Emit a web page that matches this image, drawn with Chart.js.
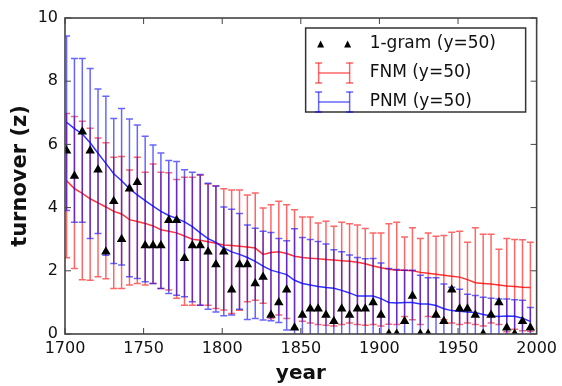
<!DOCTYPE html>
<html lang="en">
<head>
<meta charset="UTF-8">
<title>turnover (z)</title>
<script src="https://cdn.jsdelivr.net/npm/chart.js@4"></script>
<style>
    html, body {
        margin: 0;
        padding: 0;
        background-color: #fff;
    }
    canvas {
        display: block;
    }
</style>
</head>
<body>
<canvas id="grafico" width="562" height="386"></canvas>
<script>
    // years of each sample (5-year steps)
    const anos = [1701, 1706, 1711, 1716, 1721, 1726, 1731, 1736, 1741, 1746,
                  1751, 1756, 1761, 1766, 1771, 1776, 1781, 1786, 1791, 1796,
                  1801, 1806, 1811, 1816, 1821, 1826, 1831, 1836, 1841, 1846,
                  1851, 1856, 1861, 1866, 1871, 1876, 1881, 1886, 1891, 1896,
                  1901, 1906, 1911, 1916, 1921, 1926, 1931, 1936, 1941, 1946,
                  1951, 1956, 1961, 1966, 1971, 1976, 1981, 1986, 1991, 1996];

    // 1-gram turnover
    const gram = [5.8, 5.0, 6.4, 5.8, 5.2, 2.6, 4.2, 3.0, 4.6, 4.8,
                  2.8, 2.8, 2.8, 3.6, 3.6, 2.4, 2.8, 2.8, 2.6, 2.2,
                  2.6, 1.4, 2.2, 2.2, 1.6, 1.8, 0.6, 1.0, 1.4, 0.2,
                  0.6, 0.8, 0.8, 0.6, 0.4, 0.8, 0.6, 0.8, 0.8, 1.0,
                  0.6, 0.0, 0.0, 0.4, 1.2, 0.0, 0.0, 0.6, 0.4, 1.4,
                  0.8, 0.8, 0.6, 0.0, 0.6, 1.0, 0.2, 0.0, 0.4, 0.2];

    // FNM: mean, lower and upper end of the bars
    const fnmMedia = [4.85, 4.60, 4.45, 4.28, 4.15, 4.02, 3.88, 3.80, 3.62, 3.56,
                      3.50, 3.42, 3.30, 3.25, 3.20, 3.10, 3.00, 2.97, 2.92, 2.87,
                      2.82, 2.80, 2.78, 2.75, 2.72, 2.52, 2.58, 2.60, 2.55, 2.46,
                      2.42, 2.40, 2.38, 2.36, 2.34, 2.32, 2.30, 2.27, 2.22, 2.15,
                      2.10, 2.05, 2.02, 2.02, 2.00, 1.95, 1.92, 1.89, 1.86, 1.83,
                      1.80, 1.72, 1.62, 1.60, 1.58, 1.55, 1.52, 1.50, 1.48, 1.47];
    const fnmInf = [2.41, 2.07, 1.72, 1.70, 1.81, 1.75, 1.44, 1.44, 1.55, 1.60,
                    1.55, 1.60, 1.44, 1.39, 1.13, 0.91, 0.91, 0.91, 0.91, 0.81,
                    0.76, 0.65, 0.75, 1.02, 1.07, 0.97, 0.49, 0.60, 0.49, 0.18,
                    0.40, 0.35, 0.30, 0.28, 0.25, 0.30, 0.35, 0.30, 0.28, 0.30,
                    0.25, 0.31, 0.30, 0.55, 0.45, 0.30, 0.55, 0.55, 0.45, 0.35,
                    0.30, 0.35, 0.30, 0.25, 0.35, 0.30, 0.07, 0.15, 0.10, 0.08];
    const fnmSup = [6.98, 6.88, 6.73, 6.51, 6.20, 6.05, 5.59, 5.62, 5.19, 5.59,
                    5.12, 5.38, 5.12, 5.10, 4.89, 4.96, 4.96, 5.02, 4.75, 4.68,
                    4.60, 4.56, 4.56, 4.40, 4.46, 3.99, 4.09, 4.20, 4.09, 3.93,
                    3.70, 3.70, 3.51, 3.57, 3.41, 3.54, 3.49, 3.45, 3.34, 3.20,
                    3.20, 3.49, 3.54, 3.07, 3.36, 3.02, 3.20, 3.09, 3.12, 3.22,
                    3.25, 2.90, 3.36, 3.16, 3.16, 2.68, 3.02, 2.99, 2.98, 2.90];

    // PNM: mean, lower and upper end of the bars
    const pnmMedia = [6.70, 6.50, 6.33, 6.05, 5.72, 5.40, 5.07, 4.85, 4.60, 4.40,
                      4.22, 4.05, 3.88, 3.75, 3.66, 3.55, 3.40, 3.20, 3.02, 2.90,
                      2.72, 2.60, 2.52, 2.42, 2.30, 2.15, 2.02, 1.95, 1.88, 1.70,
                      1.60, 1.55, 1.50, 1.47, 1.45, 1.38, 1.30, 1.20, 1.20, 1.20,
                      1.12, 1.00, 0.98, 1.00, 1.00, 0.95, 0.95, 0.90, 0.80, 0.74,
                      0.72, 0.70, 0.68, 0.62, 0.57, 0.55, 0.57, 0.56, 0.50, 0.40];
    const pnmInf = [3.91, 3.54, 3.54, 3.02, 3.18, 2.49, 2.23, 2.18, 1.81, 1.76,
                    1.65, 1.60, 1.44, 1.28, 1.23, 1.18, 1.02, 0.91, 0.78, 0.70,
                    0.58, 0.60, 0.78, 0.46, 0.49, 0.44, 0.42, 0.36, 0.13, -0.2,
                    -0.2, -0.2, -0.2, -0.2, -0.2, -0.2, -0.2, -0.2, -0.2, -0.2,
                    -0.2, -0.2, -0.2, -0.2, -0.2, -0.2, -0.2, -0.2, -0.2, -0.2,
                    -0.2, -0.2, -0.2, -0.2, -0.2, -0.2, -0.2, -0.2, -0.2, -0.2];
    const pnmSup = [9.43, 8.72, 8.72, 8.40, 7.75, 7.52, 6.82, 7.14, 6.80, 6.61,
                    6.26, 5.98, 5.73, 5.49, 5.46, 5.20, 5.12, 5.05, 4.77, 4.68,
                    4.02, 3.95, 3.81, 3.45, 3.35, 3.25, 3.21, 3.02, 2.95, 3.33,
                    3.05, 2.99, 2.93, 2.85, 2.67, 2.60, 2.50, 2.42, 2.38, 2.39,
                    2.25, 2.07, 2.04, 2.02, 2.02, 1.86, 1.78, 1.78, 1.58, 1.48,
                    1.42, 1.26, 1.22, 1.16, 1.13, 1.11, 1.11, 1.08, 1.07, 0.84];

    const xTicks = [1700, 1750, 1800, 1850, 1900, 1950, 2000];
    const yTicks = [0, 2, 4, 6, 8, 10];

    const FUENTE = "'DejaVu Sans', Arial, sans-serif";
    const ROJO = 'rgba(255, 0, 0, 0.6)';
    const AZUL = 'rgba(0, 0, 255, 0.6)';

    const puntos = vals => anos.map((a, i) => ({ x: a, y: vals[i] }));

    // vertical error bars with caps, drawn just before each mean line
    const barrasError = {
        id: 'barrasError',
        beforeDatasetDraw(chart, args) {
            const ds = chart.data.datasets[args.index];
            if (!ds.inf) return;
            const { ctx, chartArea: a, scales: { x, y } } = chart;
            const cap = 3.5;
            ctx.save();
            ctx.beginPath();
            ctx.rect(a.left, a.top, a.width, a.height);
            ctx.clip();
            ctx.strokeStyle = ds.colorBarra;
            ctx.lineWidth = 1.5;
            anos.forEach((ano, i) => {
                const px = x.getPixelForValue(ano);
                const arriba = y.getPixelForValue(ds.sup[i]);
                const abajo = y.getPixelForValue(ds.inf[i]);
                ctx.beginPath();
                ctx.moveTo(px, arriba);
                ctx.lineTo(px, abajo);
                ctx.moveTo(px - cap, arriba);
                ctx.lineTo(px + cap, arriba);
                ctx.moveTo(px - cap, abajo);
                ctx.lineTo(px + cap, abajo);
                ctx.stroke();
            });
            ctx.restore();
        }
    };

    function linea(ctx, x1, y1, x2, y2) {
        ctx.beginPath();
        ctx.moveTo(x1, y1);
        ctx.lineTo(x2, y2);
        ctx.stroke();
    }

    function triangulo(ctx, cx, cy, r) {
        ctx.beginPath();
        ctx.moveTo(cx, cy - r);
        ctx.lineTo(cx + r, cy + r);
        ctx.lineTo(cx - r, cy + r);
        ctx.closePath();
        ctx.fill();
    }

    function iconoError(ctx, x1, x2, cy, color) {
        ctx.strokeStyle = color;
        ctx.lineWidth = 1.5;
        linea(ctx, x1, cy, x2, cy);
        [x1, x2].forEach(px => {
            linea(ctx, px, cy - 10, px, cy + 10);
            linea(ctx, px - 3.5, cy - 10, px + 3.5, cy - 10);
            linea(ctx, px - 3.5, cy + 10, px + 3.5, cy + 10);
        });
    }

    // frame, inward tick marks on all four sides, and the legend box
    const marco = {
        id: 'marco',
        afterDraw(chart) {
            const { ctx, chartArea: a, scales: { x, y } } = chart;
            ctx.save();
            ctx.strokeStyle = '#444';
            ctx.lineWidth = 1;
            xTicks.forEach(t => {
                const px = x.getPixelForValue(t);
                linea(ctx, px, a.bottom, px, a.bottom - 6);
                linea(ctx, px, a.top, px, a.top + 6);
            });
            yTicks.forEach(t => {
                const py = y.getPixelForValue(t);
                linea(ctx, a.left, py, a.left + 6, py);
                linea(ctx, a.right, py, a.right - 6, py);
            });
            ctx.lineWidth = 1.6;
            ctx.strokeRect(a.left, a.top, a.width, a.height);

            // legend
            const lx = a.right - 231, ly = a.top + 10, lw = 220, lh = 84;
            ctx.fillStyle = '#fff';
            ctx.fillRect(lx, ly, lw, lh);
            ctx.strokeStyle = '#333';
            ctx.lineWidth = 1.5;
            ctx.strokeRect(lx, ly, lw, lh);

            const filas = [ly + 16, ly + 45, ly + 74];
            ctx.fillStyle = '#000';
            triangulo(ctx, lx + 15, filas[0], 3.5);
            triangulo(ctx, lx + 42, filas[0], 3.5);
            iconoError(ctx, lx + 13, lx + 44, filas[1], ROJO);
            iconoError(ctx, lx + 13, lx + 44, filas[2], AZUL);

            ctx.fillStyle = '#111';
            ctx.font = '17px ' + FUENTE;
            ctx.textBaseline = 'middle';
            ctx.textAlign = 'left';
            const textos = chart.data.datasets.map(d => d.label);
            ctx.fillText(textos[0], lx + 64, filas[0]);
            ctx.fillText(textos[2], lx + 64, filas[1]);
            ctx.fillText(textos[1], lx + 64, filas[2]);
            ctx.restore();
        }
    };

    const ctx = document.getElementById('grafico').getContext('2d');
    const chart = new Chart(ctx, {
        type: 'line',
        data: {
            datasets: [
                {
                    label: '1-gram (y=50)',
                    data: puntos(gram),
                    showLine: false,
                    pointStyle: 'triangle',
                    pointRadius: 5.5,
                    pointBackgroundColor: '#000',
                    pointBorderWidth: 0,
                    clip: 0
                },
                {
                    label: 'PNM (y=50)',
                    data: puntos(pnmMedia),
                    borderColor: 'rgba(0, 0, 255, 0.8)',
                    borderWidth: 1.5,
                    pointRadius: 0,
                    inf: pnmInf,
                    sup: pnmSup,
                    colorBarra: AZUL
                },
                {
                    label: 'FNM (y=50)',
                    data: puntos(fnmMedia),
                    borderColor: 'rgba(255, 0, 0, 0.8)',
                    borderWidth: 1.5,
                    pointRadius: 0,
                    inf: fnmInf,
                    sup: fnmSup,
                    colorBarra: ROJO
                }
            ]
        },
        options: {
            responsive: false,
            animation: false,
            layout: { padding: { top: 18, right: 22, left: 0, bottom: 0 } },
            plugins: {
                legend: { display: false },
                tooltip: { enabled: false }
            },
            scales: {
                x: {
                    type: 'linear',
                    min: 1700,
                    max: 2000,
                    afterBuildTicks: s => { s.ticks = xTicks.map(v => ({ value: v })); },
                    afterFit: s => { s.height = 52; },
                    grid: { display: false, drawTicks: false },
                    border: { display: false },
                    ticks: {
                        color: '#111',
                        font: { family: FUENTE, size: 16 },
                        padding: 5,
                        maxRotation: 0,
                        autoSkip: false,
                        callback: v => String(v)
                    },
                    title: {
                        display: true,
                        text: 'year',
                        color: '#111',
                        font: { family: FUENTE, size: 20, weight: 'bold' },
                        padding: { top: 0, bottom: 0 }
                    }
                },
                y: {
                    min: 0,
                    max: 10,
                    afterBuildTicks: s => { s.ticks = yTicks.map(v => ({ value: v })); },
                    afterFit: s => { s.width = 65; },
                    grid: { display: false, drawTicks: false },
                    border: { display: false },
                    ticks: {
                        color: '#111',
                        font: { family: FUENTE, size: 16 },
                        padding: 7,
                        callback: v => String(v)
                    },
                    title: {
                        display: true,
                        text: 'turnover (z)',
                        color: '#111',
                        font: { family: FUENTE, size: 21, weight: 'bold' },
                        padding: { top: 8, bottom: 0 }
                    }
                }
            }
        },
        plugins: [barrasError, marco]
    });
</script>
</body>
</html>
